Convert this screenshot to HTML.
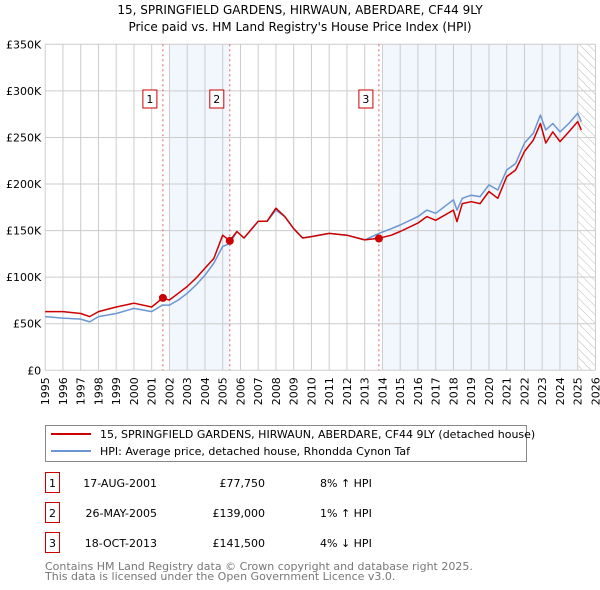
<!DOCTYPE html>
<html><head><meta charset="utf-8"><style>
body{margin:0;background:#fff;font-family:"Liberation Sans","DejaVu Sans",sans-serif;}
#wrap{position:relative;width:600px;height:590px;overflow:hidden;}
svg text{font-family:"DejaVu Sans","Liberation Sans",sans-serif;}
</style></head><body>
<div id="wrap">
<svg id="chart" width="600" height="590"></svg>
</div>
<script>
const years=[1995,1996,1997,1997.5,1998,1999,2000,2001,2001.6,2002,2002.5,2003,2003.5,2004,2004.5,2005,2005.4,2005.8,2006.2,2007,2007.5,2008,2008.5,2009,2009.5,2010,2011,2012,2013,2013.8,2014.5,2015,2016,2016.5,2017,2018,2018.2,2018.5,2019,2019.5,2020,2020.5,2021,2021.5,2022,2022.5,2022.9,2023.2,2023.6,2024,2024.5,2025,2025.2];
const hpiValues=[57.6,56,55,52,57.6,61,66.5,63,70,70,75.5,82.7,91.6,102,115,133,136,149,142,160,160,172,165,152,142,143.5,147,145,140,147,152,156,165,172,168.6,183,172,184.7,188,186.5,199,193.6,215,222,244,254.5,274,258,265,256,265,276,267];
const priceValues=[63,63,61,57.6,63,68,72,68,77.3,75.5,82.7,90,99,109.5,120,145,139,149,142,160,160,174,165,152,142,143.5,147,145,140,141.7,145,149,158,165,161,172,159.6,179,181,179,192,184.7,208,215,235,247,265,244,256,245.5,256,267,258];
const saleYears=[2001.63,2005.4,2013.8];
const saleValues=[77.75,139,141.5];
const saleLabels=["1","2","3"];
const yTicks=[0,50,100,150,200,250,300,350];
const yTickLabels=["£0","£50K","£100K","£150K","£200K","£250K","£300K","£350K"];
const xTicks=[];for(let y=1995;y<=2026;y++)xTicks.push(y);

const NS="http://www.w3.org/2000/svg";
const svg=document.getElementById('chart');
const X0=45.2,XR=17.75,Y0=370.3,YT=44.3;
const xs=y=>X0+(y-1995)*XR;
const ys=v=>Y0-(v/350)*(Y0-YT);
function el(t,a,p){const e=document.createElementNS(NS,t);for(const k in a)e.setAttribute(k,a[k]);(p||svg).appendChild(e);return e;}

let t=el('text',{x:300,y:14,'text-anchor':'middle','font-size':12,fill:'#000'});t.textContent="15, SPRINGFIELD GARDENS, HIRWAUN, ABERDARE, CF44 9LY";


t=el('text',{x:300,y:31,'text-anchor':'middle','font-size':12,fill:'#000'});t.textContent="Price paid vs. HM Land Registry's House Price Index (HPI)";



let r=el('rect',{x:xs(2002),y:YT,width:xs(2005.4)-xs(2002),height:Y0-YT,fill:'#f2f6fd'});


r=el('rect',{x:xs(2014),y:YT,width:xs(2025)-xs(2014),height:Y0-YT,fill:'#f2f6fd'});


const defs=el('defs',{});
const pat=el('pattern',{id:'hatch',width:6,height:6,patternUnits:'userSpaceOnUse',patternTransform:'rotate(-45)'},defs);
el('line',{x1:0,y1:0,x2:0,y2:6,stroke:'#bbb','stroke-width':1},pat);
r=el('rect',{x:xs(2025),y:YT,width:xs(2026)-xs(2025),height:Y0-YT,fill:'url(#hatch)'});



xTicks.forEach(y=>{let l=el('line',{x1:xs(y),x2:xs(y),y1:YT,y2:Y0,stroke:'#ccc','stroke-width':1});


let tx=el('text',{x:0,y:0,'text-anchor':'end','font-size':11,fill:'#000',transform:'translate('+(xs(y)+4)+','+(Y0+7)+') rotate(-90)'});tx.textContent=y;

});
yTicks.forEach((v,i)=>{let l=el('line',{x1:X0,x2:xs(2026),y1:ys(v),y2:ys(v),stroke:'#ccc','stroke-width':1});


let tx=el('text',{x:X0-4,y:ys(v)+4,'text-anchor':'end','font-size':11,fill:'#000'});tx.textContent=yTickLabels[i];

});

saleYears.forEach((y,i)=>{let l=el('line',{x1:xs(y),x2:xs(y),y1:YT,y2:Y0,stroke:'#e06060','stroke-width':1,'stroke-dasharray':'2,3'});


const g=el('g',{});


el('rect',{x:xs(y)-20,y:90,width:14,height:18,fill:'#fff',stroke:'#cc0000','stroke-width':1},g);
let tx=el('text',{x:xs(y)-13,y:103,'text-anchor':'middle','font-size':11,fill:'#000'},g);tx.textContent=saleLabels[i];});

function line(vals,color,name){const d=years.map((y,i)=>(i?'L':'M')+xs(y).toFixed(1)+','+ys(vals[i]).toFixed(1)).join('');
const p=el('path',{d:d,fill:'none',stroke:color,'stroke-width':1.5,'stroke-linejoin':'round'});

}
line(hpiValues,'#6a96d4','hpi-line');
line(priceValues,'#cc0000','price-paid-line');
saleYears.forEach((y,i)=>{const c=el('circle',{cx:xs(y),cy:ys(saleValues[i]),r:4,fill:'#cc0000'});

});

const lg=el('g',{});


el('rect',{x:45.5,y:425.5,width:481,height:36,fill:'#fff',stroke:'#888'},lg);
el('line',{x1:51,x2:91,y1:434,y2:434,stroke:'#cc0000','stroke-width':2},lg);
el('line',{x1:51,x2:91,y1:451,y2:451,stroke:'#6a96d4','stroke-width':2},lg);
t=el('text',{x:100,y:438,'font-size':11,fill:'#000'},lg);t.textContent="15, SPRINGFIELD GARDENS, HIRWAUN, ABERDARE, CF44 9LY (detached house)";


t=el('text',{x:100,y:455,'font-size':11,fill:'#000'},lg);t.textContent="HPI: Average price, detached house, Rhondda Cynon Taf";



const rows=[["1","17-AUG-2001","£77,750","8% ↑ HPI"],["2","26-MAY-2005","£139,000","1% ↑ HPI"],["3","18-OCT-2013","£141,500","4% ↓ HPI"]];
rows.forEach((row,i)=>{const y=483+i*30;const g=el('g',{});


el('rect',{x:45.5,y:y-10.5,width:14,height:20,fill:'#fff',stroke:'#cc0000'},g);
let a=el('text',{x:52.5,y:y+4,'text-anchor':'middle','font-size':11},g);a.textContent=row[0];
a=el('text',{x:157,y:y+4,'text-anchor':'end','font-size':11},g);a.textContent=row[1];
a=el('text',{x:265,y:y+4,'text-anchor':'end','font-size':11},g);a.textContent=row[2];
a=el('text',{x:320,y:y+4,'font-size':11},g);a.textContent=row[3];});
t=el('text',{x:45,y:570,'font-size':11,fill:'#777'});t.textContent="Contains HM Land Registry data © Crown copyright and database right 2025.";


t=el('text',{x:45,y:580,'font-size':11,fill:'#777'});t.textContent="This data is licensed under the Open Government Licence v3.0.";


</script>
</body></html>
